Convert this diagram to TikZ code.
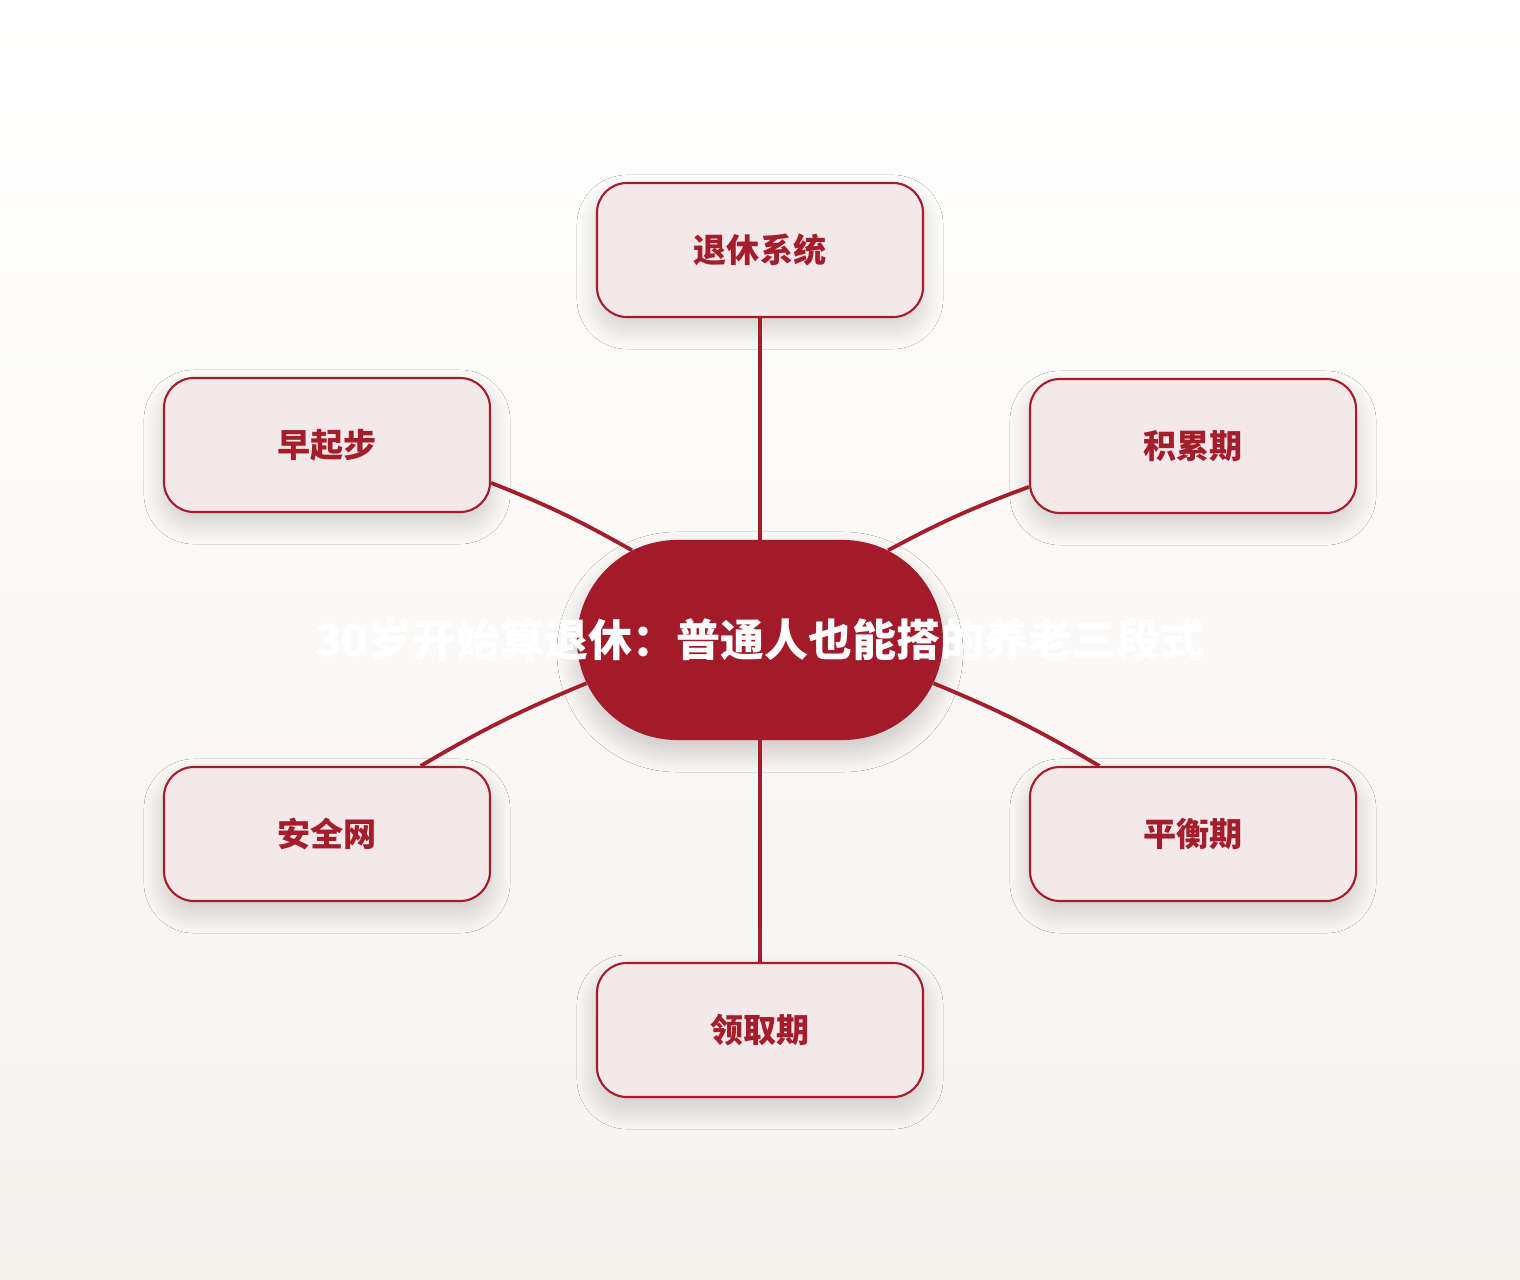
\documentclass[tikz,border=0pt]{standalone}
\usepackage{fontspec}
\usepackage{xcolor}
\usepackage{tikz}
\usetikzlibrary{shapes,shapes.misc,shadows.blur}
\newfontfamily\cjk{Noto Sans CJK SC}
\definecolor{hong}{HTML}{A51C2B}
\definecolor{zhong}{HTML}{A31A2A}
\definecolor{fen}{HTML}{F4E8EA}
\definecolor{di}{HTML}{F6F3EF}
\tikzset{box/.style={rectangle,draw=hong,line width=1.5pt,fill=fen,rounded corners=0.75cm,minimum width=8.15cm,minimum height=3.35cm,text=hong,font=\cjk\bfseries\fontsize{23.5pt}{28pt}\selectfont,blur shadow={shadow xshift=0pt,shadow yshift=-0.3cm,shadow blur radius=0.5cm,shadow blur steps=30,shadow opacity=18}}}
\tikzset{mid/.style={rounded rectangle,fill=zhong,minimum width=9.15cm,minimum height=5cm,inner sep=0pt,text=white,font=\cjk\bfseries\fontsize{31.3pt}{36pt}\selectfont,blur shadow={shadow xshift=0pt,shadow yshift=-0.3cm,shadow blur radius=0.5cm,shadow blur steps=30,shadow opacity=20}}}
\tikzset{line/.style={draw=hong,line width=2.7pt}}

\begin{document}
\begin{tikzpicture}[x=0.025cm,y=-0.025cm]
    \shade[top color=white,bottom color=di] (0,0) rectangle (1520,1280);
    \useasboundingbox (0,0) rectangle (1520,1280);

    \node[box] (a)at (760,250) {退休系统};
    \node[box] (b)at (327,445) {早起步};
    \node[box] (e)at (1193,446) {积累期};
    \node[box] (d)at (327,834) {安全网};
    \node[box] (g)at (1193,834) {平衡期};
    \node[box] (f)at (760,1030) {领取期};
    \node[mid] (c)at (760,640) {\makebox[0pt]{30岁开始算退休：普通人也能搭的养老三段式}};

    \draw [line] (a.south) to [] (c.north);
    \draw [line] (b.-13) to [bend left=4] (c.145);
    \draw [line] (e.194) to [bend right=4] (c.35);
    \draw [line] (d.36) to [bend left=4] (c.194);
    \draw [line] (g.144) to [bend right=4] (c.-14);
    \draw [line] (c.south) to [] (f.north);
\end{tikzpicture}
\end{document}
